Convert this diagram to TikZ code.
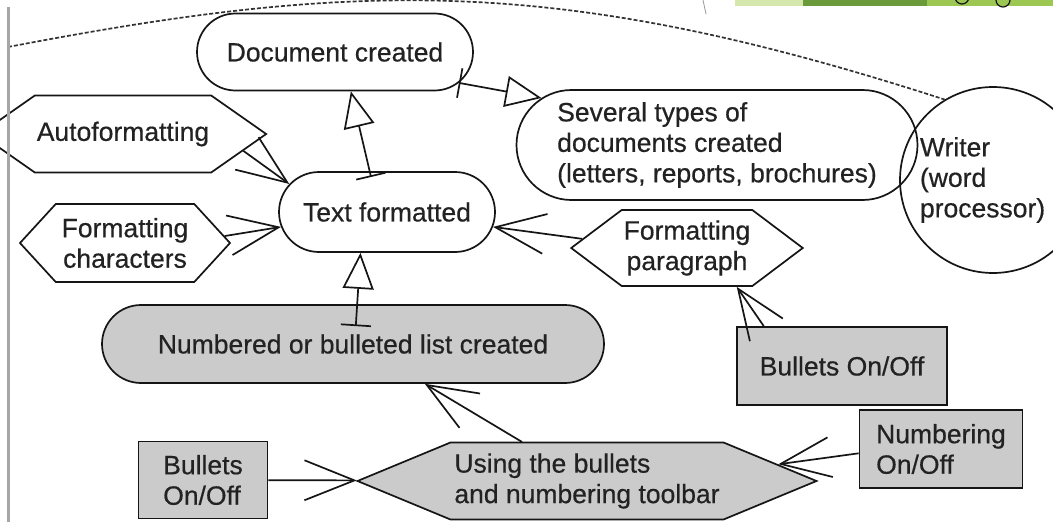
\documentclass[tikz,border=0pt]{standalone}
\usepackage{fontspec}
\setmainfont{Liberation Sans}[FakeBold=0.5]
\usetikzlibrary{arrows.meta, shapes.misc, shapes.symbols}
\definecolor{inkline}{HTML}{151515}
\definecolor{inktext}{HTML}{222222}
\definecolor{listgray}{HTML}{CBCBCB}
\definecolor{leafa}{HTML}{D6E7AE}
\definecolor{leafb}{HTML}{6A9A3A}
\definecolor{leafc}{HTML}{9CC752}

\begin{document}
\begin{tikzpicture}[x=1pt, y=-1pt, line width=1.7pt, draw=inkline, text=inktext,
  font=\fontsize{26.5}{30.5}\selectfont,
  oval/.style={draw, rounded rectangle, inner sep=2pt},
  hexa/.style={draw, signal, signal to=east and west, inner sep=2pt},
  box/.style={draw, rectangle, fill=listgray},
  barb/.style={-{Straight Barb[length=50pt, width=40pt]}},
  tri/.style={{Bar[width=30pt]}-{Triangle[open, length=36pt, width=31pt]}}]
			\useasboundingbox (0,0) rectangle (1053,522);
			\clip (0,0) rectangle (1053,522);
			\fill[white] (0,0) rectangle (1053,522);
			% slide strip at the top
			\fill[leafa] (735,0) rectangle (803,6);
			\fill[leafb] (803,0) rectangle (927,6);
			\fill[leafc] (927,0) rectangle (1053,6);
			\draw[line width=1.2pt] (962,-3) circle (7);
			\draw[line width=1.2pt] (1003,0) circle (7);
			\draw[line width=0.8pt, draw=black!40] (703,0) -- (706,14);
			
			\node[oval, minimum width=280pt, minimum height=77pt] at (335,52) (doc) {Document created};
			\node[oval, minimum width=220pt, minimum height=80pt] at (387,212) (textf) {Text formatted};
			\node[oval, align=left, minimum width=405pt, minimum height=110pt] at (717,145) (several) {Several types of\\documents created\\(letters, reports, brochures)};
			\node[draw, circle, align=left, text width=146pt, minimum size=186pt, inner sep=0pt] at (993,180) (writer) {Writer\\(word\\processor)};
			\node[oval, fill=listgray, minimum width=506pt, minimum height=78pt] at (353,344) (list) {Numbered or bulleted list created};
			\node[hexa, signal pointer angle=70, minimum width=269pt, minimum height=77pt] at (123,134) (auto) {Autoformatting};
			\node[hexa, align=center, signal pointer angle=95, minimum width=210pt, minimum height=78pt] at (125,243) (fchar) {Formatting\\characters};
			\node[hexa, align=center, signal pointer angle=74, minimum width=219pt, minimum height=76pt] at (687,248) (fpara) {Formatting\\paragraph};
			\node[box, minimum width=210pt, minimum height=78pt] at (842,366) (bullr) {Bullets On/Off};
			\node[box, align=left, minimum width=163pt, minimum height=78pt] at (941,449) (numb) {Numbering\\On/Off};
			\node[box, align=left, minimum width=129pt, minimum height=77pt] at (203,480) (bulll) {Bullets\\On/Off};
			\node[hexa, fill=listgray, align=left, signal pointer angle=45, minimum width=459pt, minimum height=77pt] at (587,481) (tool) {Using the bullets\\and numbering toolbar};
			
			\draw[barb] (auto.-8) -- (textf.164);
			\draw[barb] (fchar.4) -- (textf.188);
			\draw[barb] (fpara.175) -- (textf.-8);
			\draw[barb] (bullr.153) -- (fpara.-38);
			\draw[barb] (tool.149) -- (list.-29);
			\draw[barb] (bulll) -- (tool);
			\draw[barb] (numb.183) -- (tool.5);
			\draw[tri, shorten <=-6pt] (textf.113) -- (doc.-68);
			\draw[tri] (doc.-14) -- (several.165);
			\draw[tri, shorten <=-22pt] (list.84) -- (textf.-123);
			
			% dashed boundary and page edge
			\coordinate (edgeL) at (8,47);
			\draw[dash pattern=on 4pt off 2pt, line width=1.7pt, draw=black!80] (edgeL) .. controls (358,-20) and (560,-25) .. (writer.121);
			\draw[line width=3pt, draw=black!35] (8,7) -- (8,522);
			\end{tikzpicture}
\end{document}
